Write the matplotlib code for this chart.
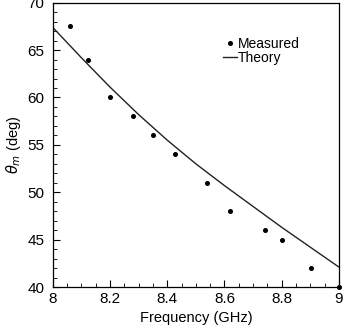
import matplotlib
matplotlib.use("Agg")
import matplotlib.pyplot as plt
from matplotlib.ticker import MultipleLocator, FormatStrFormatter

# measured points
freq_meas = [8.06, 8.124, 8.20, 8.279, 8.349, 8.429, 8.538, 8.619, 8.741, 8.80, 8.903, 9.0]
theta_meas = [67.5, 64.0, 60.0, 58.0, 56.0, 54.0, 51.0, 48.0, 46.0, 45.0, 42.0, 40.0]

# theory curve
freq_theory = [8.0, 8.1, 8.2, 8.3, 8.4, 8.5, 8.6, 8.7, 8.8, 8.9, 9.0]
theta_theory = [67.4, 64.2, 61.1, 58.2, 55.5, 53.0, 50.7, 48.5, 46.3, 44.2, 42.1]

plt.rcParams['font.family'] = ['Liberation Sans', 'DejaVu Sans']
plt.rcParams['mathtext.fontset'] = 'dejavusans'

fig = plt.figure(figsize=(3.48, 3.36), dpi=100)
ax = fig.add_axes([0.1514, 0.1458, 0.8226, 0.8462])

ax.plot(freq_meas, theta_meas, linestyle="", marker="o", markersize=2.6, color="black", label="Measured", clip_on=False)
ax.plot(freq_theory, theta_theory, color="#222222", linewidth=1.0, label="Theory")

ax.set_xlim(8, 9)
ax.set_ylim(40, 70)
ax.xaxis.set_major_locator(MultipleLocator(0.2))
ax.xaxis.set_minor_locator(MultipleLocator(0.05))
ax.yaxis.set_major_locator(MultipleLocator(5))
ax.yaxis.set_minor_locator(MultipleLocator(1))
ax.xaxis.set_major_formatter(FormatStrFormatter('%g'))
ax.tick_params(which='both', direction='in', top=False, right=False, labelsize=11)
ax.tick_params(axis='y', pad=6)
ax.tick_params(which='major', length=5, width=0.8)
ax.tick_params(which='minor', length=3, width=0.6)
for s in ax.spines.values():
    s.set_linewidth(0.9)

ax.set_xlabel("Frequency (GHz)", fontsize=10.5)
ax.set_ylabel(r"$\theta_m$ (deg)", fontsize=10.5, labelpad=3)

ax.legend(loc='upper left', bbox_to_anchor=(0.57, 0.905), frameon=False, fontsize=10,
          handlelength=1.0, handletextpad=0.1, labelspacing=0.0, borderpad=0.0)

fig.savefig("out.png", dpi=100)
